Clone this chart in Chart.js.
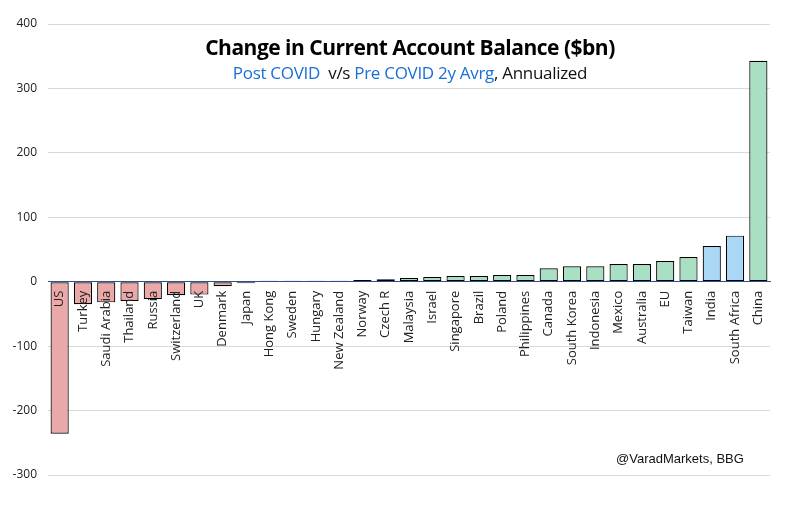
<!DOCTYPE html>
<html lang="en">
<head>
<meta charset="UTF-8">
<title>Change in Current Account Balance</title>
<script src="https://cdn.jsdelivr.net/npm/chart.js"></script>
<style>
    html, body { margin: 0; padding: 0; background: #fff; }
    #wrap { position: relative; width: 791px; height: 509px; }
    #title { position: absolute; left: 0; width: 820px; top: 33px; text-align: center;
             font: bold 21px "Open Sans", sans-serif; color: #000; letter-spacing: -0.5px; }
    #subtitle { position: absolute; left: 0; width: 820px; top: 61px; text-align: center;
                font: 17px "Open Sans", sans-serif; color: #111; letter-spacing: -0.3px; }
    #subtitle .blue { color: #1a6fd6; }
    #source { position: absolute; left: 616px; top: 451px;
              font: 13px "Liberation Sans Narrow", "Liberation Sans", sans-serif; color: #111; }
</style>
</head>
<body>
<div id="wrap">
    <canvas id="chart" width="791" height="509"></canvas>
    <div id="title">Change in Current Account Balance ($bn)</div>
    <div id="subtitle"><span class="blue">Post COVID</span>&nbsp; v/s <span class="blue">Pre COVID 2y Avrg</span>, Annualized</div>
    <div id="source">@VaradMarkets, BBG</div>
</div>
<script>
// datos
var paises = ['US', 'Turkey', 'Saudi Arabia', 'Thailand', 'Russia', 'Switzerland', 'UK', 'Denmark',
    'Japan', 'Hong Kong', 'Sweden', 'Hungary', 'New Zealand', 'Norway', 'Czech R', 'Malaysia',
    'Israel', 'Singapore', 'Brazil', 'Poland', 'Philippines', 'Canada', 'South Korea', 'Indonesia',
    'Mexico', 'Australia', 'EU', 'Taiwan', 'India', 'South Africa', 'China'];
var cambio = [-236, -35, -32, -30, -27, -21, -20, -7,
    -2.5, 1.5, 1.5, 1.5, 1.5, 2.6, 4, 5.7,
    7.3, 8.8, 8.8, 10.4, 10.4, 21, 24, 24,
    27.5, 27.5, 32, 38.4, 55.5, 71.5, 343];
var destacados = ['India', 'South Africa'];
var yTicks = [-300, -200, -100, 0, 100, 200, 300, 400];

var colores = paises.map(function (p, i) {
    if (destacados.indexOf(p) >= 0) return '#a9d8f7';
    return cambio[i] < 0 ? '#eaa8a8' : '#a9e0c3';
});

var ctx = document.getElementById('chart').getContext('2d');
new Chart(ctx, {
    type: 'bar',
    data: {
        labels: paises,
        datasets: [{
            data: cambio,
            backgroundColor: colores,
            borderColor: '#000',
            borderWidth: 1.2,
            borderSkipped: false,
            barPercentage: 0.78,
            categoryPercentage: 1.0
        }]
    },
    options: {
        responsive: false,
        animation: false,
        layout: { padding: { top: 24, right: 21, bottom: 34, left: 0 } },
        plugins: { legend: { display: false }, tooltip: { enabled: false } },
        scales: {
            x: {
                position: { y: 0 },
                grid: { display: false, drawTicks: false },
                border: { color: '#2f4f8f', width: 1, z: 1 },
                ticks: {
                    z: 1,
                    autoSkip: false, minRotation: 90, maxRotation: 90, padding: 9,
                    color: '#222', font: { family: 'Open Sans', size: 13 }
                }
            },
            y: {
                min: -300, max: 400,
                afterBuildTicks: function (scale) {
                    scale.ticks = yTicks.map(function (v) { return { value: v }; });
                },
                afterFit: function (scale) { scale.width = 48; },
                grid: { color: '#d9d9d9', drawTicks: false },
                border: { display: false },
                ticks: {
                    padding: 11, color: '#222',
                    font: { family: 'Open Sans', size: 12 }
                }
            }
        }
    }
});
</script>
</body>
</html>
